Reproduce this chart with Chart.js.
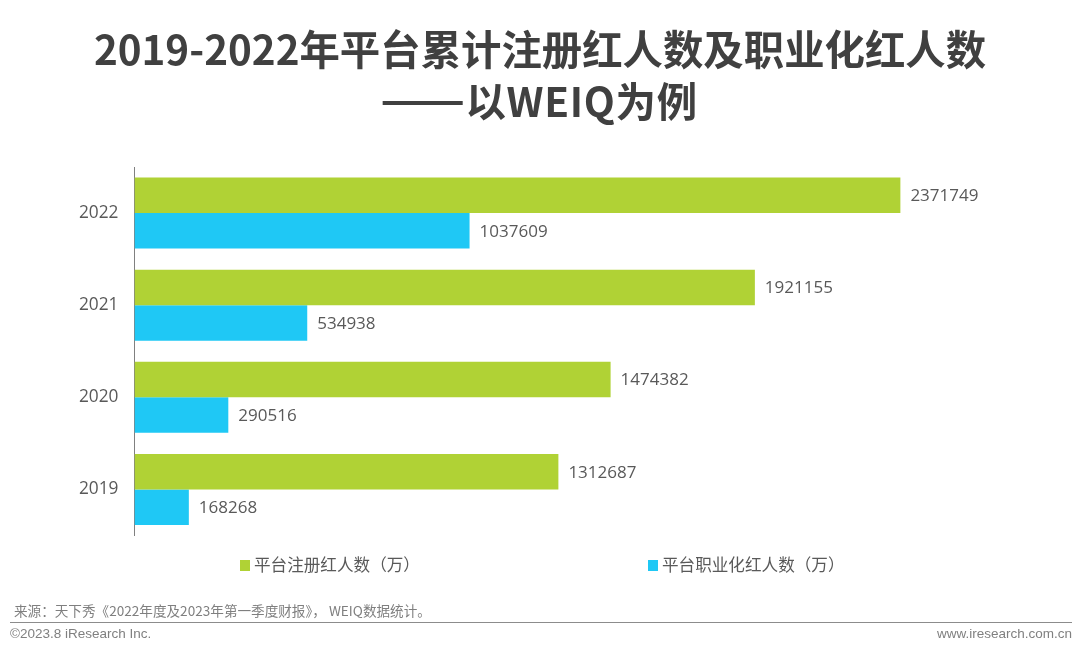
<!DOCTYPE html>
<html>
<head>
<meta charset="utf-8">
<script src="https://cdn.jsdelivr.net/npm/chart.js@4/dist/chart.umd.min.js"></script>
<style>
  html, body { margin: 0; padding: 0; background: #fff; }
  #page { position: relative; width: 1080px; height: 650px; overflow: hidden; font-family: "Noto Sans CJK SC", sans-serif; }
  #page div { position: absolute; white-space: nowrap; }
  #chartCanvas { position: absolute; left: 0; top: 0; }
  .title { left: 0; width: 1080px; text-align: center; font-size: 40.4px; font-weight: 700; color: #404040; line-height: 50px; }
  .dash { display: inline-block; font-size: 43px; letter-spacing: 0; transform-origin: right center; transform: translateY(-2px) scaleX(1.16); }
  .legend-item { top: 554px; font-size: 16.6px; line-height: 20px; color: #595959; }
  .legend-item span { display: inline-block; width: 10px; height: 11px; margin-right: 4px; }
  .footer { font-family: "Liberation Sans", Arial, sans-serif; font-size: 13.5px; color: #808080; line-height: 14px; }
</style>
</head>
<body>
<div id="page">
  <canvas id="chartCanvas" width="1080" height="650"></canvas>
  <div class="title" style="top: 23px;">2019-2022年平台累计注册红人数及职业化红人数</div>
  <div class="title" style="top: 73px; padding-left: 10px; box-sizing: border-box; letter-spacing: 0.7px;"><span class="dash">——</span>以WEIQ为例</div>
  <div class="legend-item" id="legend0" style="left: 240px;"></div>
  <div class="legend-item" id="legend1" style="left: 648px;"></div>
  <div style="left: 14px; top: 602px; font-size: 13.6px; line-height: 16px; color: #7f7f7f;">来源：天下秀《2022年度及2023年第一季度财报》， WEIQ数据统计。</div>
  <div style="left: 10px; top: 622px; width: 1062px; height: 1px; background: #8c8c8c;"></div>
  <div class="footer" style="left: 10px; top: 627px;">©2023.8 iResearch Inc.</div>
  <div class="footer" style="right: 8px; top: 627px;">www.iresearch.com.cn</div>
</div>
<script>
const years = ["2022", "2021", "2020", "2019"];
const registered = [2371749, 1921155, 1474382, 1312687];
const professional = [1037609, 534938, 290516, 168268];
const seriesNames = ["平台注册红人数（万）", "平台职业化红人数（万）"];
const seriesColors = ["#B0D235", "#1FC8F5"];

// Value labels at the end of each bar
const barLabels = {
  id: "barLabels",
  afterDatasetsDraw(chart) {
    const ctx = chart.ctx;
    ctx.save();
    ctx.font = '17px "Open Sans"';
    ctx.fillStyle = "#595959";
    ctx.textBaseline = "middle";
    chart.data.datasets.forEach((ds, i) => {
      chart.getDatasetMeta(i).data.forEach((bar, j) => {
        ctx.fillText(String(ds.data[j]), bar.x + 10, bar.y + 1);
      });
    });
    ctx.restore();
  },
};

const chart = new Chart(document.getElementById("chartCanvas").getContext("2d"), {
  type: "bar",
  data: {
    labels: years,
    datasets: [
      { label: seriesNames[0], data: registered, backgroundColor: seriesColors[0] },
      { label: seriesNames[1], data: professional, backgroundColor: seriesColors[1] },
    ],
  },
  options: {
    indexAxis: "y",
    responsive: false,
    animation: false,
    categoryPercentage: 0.77,
    barPercentage: 1,
    layout: { padding: { top: 167, bottom: 114.5, left: 0, right: 0 } },
    scales: {
      x: { display: false, min: 0, max: 2928000 },
      y: {
        afterFit(scale) { scale.width = 134.5; },
        grid: { drawOnChartArea: false, drawTicks: false },
        border: { color: "#808080", width: 1 },
        ticks: { color: "#595959", padding: 16, font: { family: "Open Sans", size: 17.3 } },
      },
    },
    plugins: { legend: { display: false }, tooltip: { enabled: false } },
  },
  plugins: [barLabels],
});

// Legend built from the chart's datasets
chart.data.datasets.forEach((ds, i) => {
  const el = document.getElementById("legend" + i);
  const box = document.createElement("span");
  box.style.background = ds.backgroundColor;
  el.appendChild(box);
  el.appendChild(document.createTextNode(ds.label));
});
</script>
</body>
</html>
